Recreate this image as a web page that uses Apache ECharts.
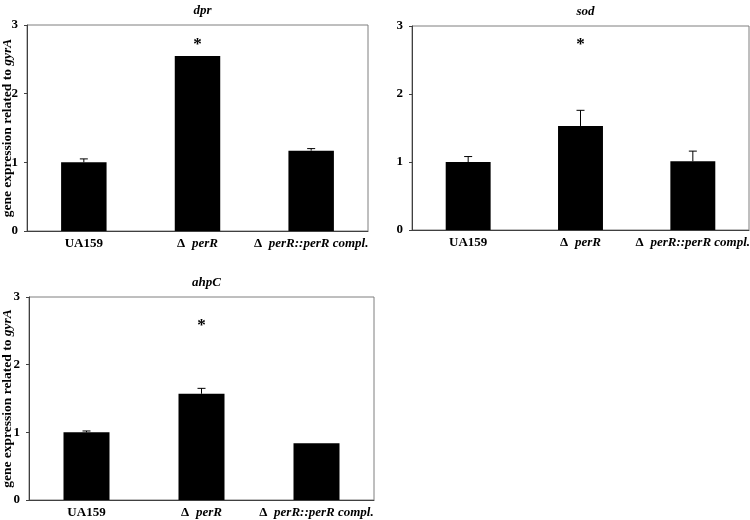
<!DOCTYPE html>
<html>
<head>
<meta charset="utf-8">
<script src="https://cdn.jsdelivr.net/npm/echarts@6/dist/echarts.min.js"></script>
<style>
html,body{margin:0;padding:0;background:#fff;}
#main{width:750px;height:520px;}
</style>
</head>
<body>
<div id="main"></div>
<script>
var categories = ['UA159', 'Δ perR', 'Δ perR::perR compl.'];
var panelTitles = ['dpr', 'sod', 'ahpC'];
var yTicks = [0, 1, 2, 3];

// mean expression, upper error, star height (null = no star)
var dprValues = [1.0, 2.55, 1.17];
var dprErrors = [0.05, 0, 0.03];
var dprStars = [null, 2.72, null];

var sodValues = [1.0, 1.53, 1.01];
var sodErrors = [0.08, 0.23, 0.15];
var sodStars = [null, 2.72, null];

var ahpValues = [1.0, 1.57, 0.84];
var ahpErrors = [0.02, 0.08, 0];
var ahpStars = [null, 2.57, null];

var panels = [
	{ values: dprValues, errors: dprErrors, stars: dprStars, grid: { left: 27, top: 25, width: 341, height: 206 }, yName: true },
	{ values: sodValues, errors: sodErrors, stars: sodStars, grid: { left: 412, top: 26, width: 337, height: 204 }, yName: false },
	{ values: ahpValues, errors: ahpErrors, stars: ahpStars, grid: { left: 29, top: 297, width: 345, height: 203 }, yName: true }
];

var serif = "'Liberation Serif', 'DejaVu Serif', serif";
var myChart = echarts.init(document.getElementById('main'));

function renderErr(params, api) {
	var err = api.value(2);
	if (!err) return null;
	var base = api.coord([api.value(0), api.value(1)]);
	var top = api.coord([api.value(0), api.value(1) + err]);
	return {
		type: 'group',
		children: [
			{ type: 'line', shape: { x1: base[0], y1: base[1], x2: top[0], y2: top[1] }, style: { stroke: '#000', lineWidth: 1 } },
			{ type: 'line', shape: { x1: top[0] - 4, y1: top[1], x2: top[0] + 4, y2: top[1] }, style: { stroke: '#000', lineWidth: 1 } }
		]
	};
}

function renderStar(params, api) {
	var p = api.coord([api.value(0), api.value(1)]);
	return {
		type: 'text',
		x: p[0], y: p[1],
		style: { text: '*', fontSize: 17, fontWeight: 'bold', fontFamily: serif, fill: '#000', align: 'center', verticalAlign: 'middle' }
	};
}

function catFormatter(v) {
	if (v === 'UA159') return '{b|UA159}';
	var parts = v.split(' ');
	return '{b|' + parts[0] + '}  {i|' + parts.slice(1).join(' ') + '}';
}

var option = { animation: false, title: [], grid: [], xAxis: [], yAxis: [], series: [] };

for (var i = 0; i < panels.length; i++) {
	var p = panels[i];
	option.grid.push({
		left: p.grid.left, top: p.grid.top, width: p.grid.width, height: p.grid.height,
		containLabel: false, outerBoundsMode: 'none',
		show: true, borderColor: '#7f7f7f', borderWidth: 1
	});
	option.title.push({
		text: panelTitles[i],
		left: p.grid.left + p.grid.width / 2,
		top: p.grid.top - 26,
		textAlign: 'center',
		textStyle: { fontFamily: serif, fontSize: 13, fontStyle: 'italic', fontWeight: 'bold', color: '#000' }
	});
	option.xAxis.push({
		type: 'category',
		gridIndex: i,
		data: categories,
		axisLine: { lineStyle: { color: '#404040', width: 1 } },
		axisTick: { show: false },
		axisLabel: {
			margin: 6,
			interval: 0,
			hideOverlap: false,
			formatter: catFormatter,
			rich: {
				b: { fontFamily: serif, fontSize: 13, fontWeight: 'bold', color: '#000' },
				i: { fontFamily: serif, fontSize: 13, fontWeight: 'bold', fontStyle: 'italic', color: '#000' }
			}
		}
	});
	option.yAxis.push({
		type: 'value',
		gridIndex: i,
		min: yTicks[0],
		max: yTicks[yTicks.length - 1],
		interval: 1,
		splitLine: { show: false },
		axisLine: { show: true, lineStyle: { color: '#404040', width: 1 } },
		axisTick: { show: true, length: 3, lineStyle: { color: '#404040' } },
		axisLabel: { margin: 9, fontFamily: serif, fontSize: 13, fontWeight: 'bold', color: '#000' },
		name: p.yName ? '{n|gene expression related to }{g|gyrA}' : '',
		nameLocation: 'middle',
		nameMoveOverlap: false,
		nameGap: p.grid.left - 15,
		nameTextStyle: {
			rich: {
				n: { fontFamily: serif, fontSize: 13.5, fontWeight: 'bold', color: '#000' },
				g: { fontFamily: serif, fontSize: 13.5, fontWeight: 'bold', fontStyle: 'italic', color: '#000' }
			}
		}
	});
	option.series.push({
		type: 'bar',
		xAxisIndex: i,
		yAxisIndex: i,
		data: p.values,
		barWidth: '40%',
		itemStyle: { color: '#000' }
	});
	var errData = [], starData = [];
	for (var k = 0; k < categories.length; k++) {
		errData.push([k, p.values[k], p.errors[k]]);
		if (p.stars[k] != null) starData.push([k, p.stars[k]]);
	}
	option.series.push({
		type: 'custom',
		xAxisIndex: i,
		yAxisIndex: i,
		renderItem: renderErr,
		data: errData,
		z: 3
	});
	option.series.push({
		type: 'custom',
		xAxisIndex: i,
		yAxisIndex: i,
		renderItem: renderStar,
		data: starData,
		z: 4
	});
}

myChart.setOption(option);
</script>
</body>
</html>
